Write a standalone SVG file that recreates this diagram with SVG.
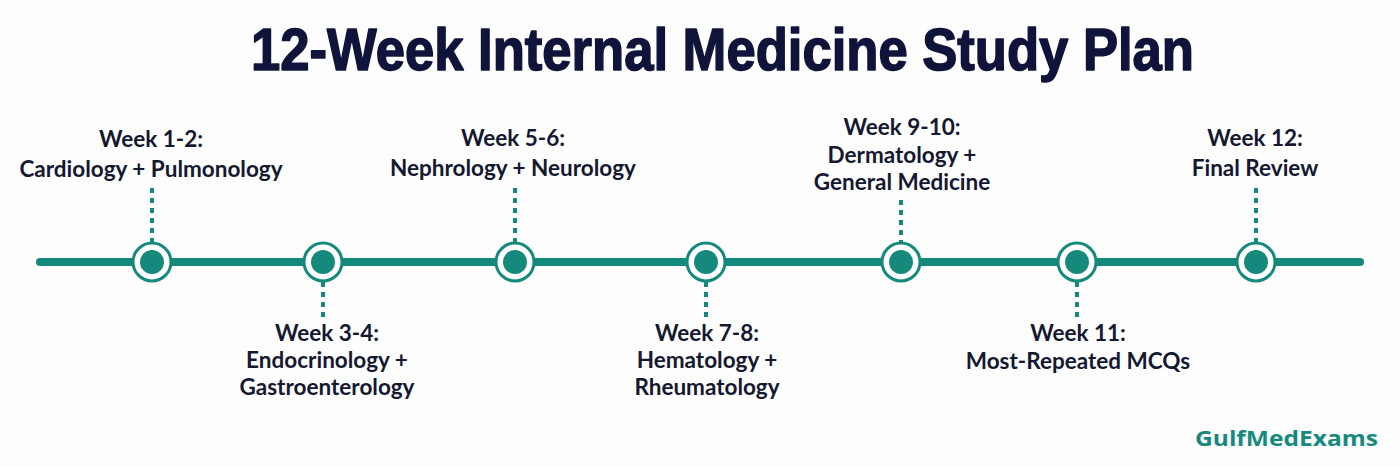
<svg xmlns="http://www.w3.org/2000/svg" width="1400" height="467" viewBox="0 0 1400 467">
<style>
.lbl{font-family:Lato,"Noto Sans",sans-serif;font-weight:700;font-size:22.5px;fill:#141830;text-anchor:middle}
.title{font-family:"Liberation Sans",Arial,sans-serif;font-weight:700;font-size:60px;fill:#10143a;stroke:#10143a;stroke-width:1.6;stroke-linejoin:round}
.dot{stroke:#158a7c;stroke-width:4;stroke-dasharray:5 5;fill:none}
.ring{fill:#fff;stroke:#158a7c;stroke-width:3}
.core{fill:#158a7c}
</style>
<rect width="1400" height="467" fill="#fdfdfd"/>
<text class="title" x="251" y="70" textLength="943" lengthAdjust="spacingAndGlyphs">12-Week Internal Medicine Study Plan</text>
<g id="connectors">
<line x1="40" y1="262" x2="1360" y2="262" stroke="#158a7c" stroke-width="8" stroke-linecap="round"/>
<line class="dot" x1="152" y1="188" x2="152" y2="242"/>
<line class="dot" x1="323" y1="282" x2="323" y2="318"/>
<line class="dot" x1="515" y1="188" x2="515" y2="242"/>
<line class="dot" x1="706" y1="282" x2="706" y2="318"/>
<line class="dot" x1="901" y1="200" x2="901" y2="242"/>
<line class="dot" x1="1077" y1="282" x2="1077" y2="318"/>
<line class="dot" x1="1256" y1="188" x2="1256" y2="242"/>
</g>
<g id="n1"><circle class="ring" cx="152" cy="262" r="19"/><circle class="core" cx="152" cy="262" r="12"/>
<text class="lbl" x="151" y="147">Week 1-2:</text><text class="lbl" x="151" y="177">Cardiology + Pulmonology</text></g>
<g id="n2"><circle class="ring" cx="323" cy="262" r="19"/><circle class="core" cx="323" cy="262" r="12"/>
<text class="lbl" x="327" y="341">Week 3-4:</text><text class="lbl" x="327" y="368">Endocrinology +</text><text class="lbl" x="327" y="395">Gastroenterology</text></g>
<g id="n3"><circle class="ring" cx="515" cy="262" r="19"/><circle class="core" cx="515" cy="262" r="12"/>
<text class="lbl" x="513" y="146">Week 5-6:</text><text class="lbl" x="513" y="176">Nephrology + Neurology</text></g>
<g id="n4"><circle class="ring" cx="706" cy="262" r="19"/><circle class="core" cx="706" cy="262" r="12"/>
<text class="lbl" x="707" y="341">Week 7-8:</text><text class="lbl" x="707" y="368">Hematology +</text><text class="lbl" x="707" y="395">Rheumatology</text></g>
<g id="n5"><circle class="ring" cx="901" cy="262" r="19"/><circle class="core" cx="901" cy="262" r="12"/>
<text class="lbl" x="902" y="135">Week 9-10:</text><text class="lbl" x="902" y="163">Dermatology +</text><text class="lbl" x="902" y="190">General Medicine</text></g>
<g id="n6"><circle class="ring" cx="1077" cy="262" r="19"/><circle class="core" cx="1077" cy="262" r="12"/>
<text class="lbl" x="1078" y="341">Week 11:</text><text class="lbl" x="1078" y="369">Most-Repeated MCQs</text></g>
<g id="n7"><circle class="ring" cx="1256" cy="262" r="19"/><circle class="core" cx="1256" cy="262" r="12"/>
<text class="lbl" x="1255" y="146">Week 12:</text><text class="lbl" x="1255" y="176">Final Review</text></g>
<text x="1195" y="446" font-family="'Open Sans','Liberation Sans',sans-serif" font-weight="700" font-size="21" fill="#158a7c" textLength="183" lengthAdjust="spacingAndGlyphs">GulfMedExams</text>
</svg>
